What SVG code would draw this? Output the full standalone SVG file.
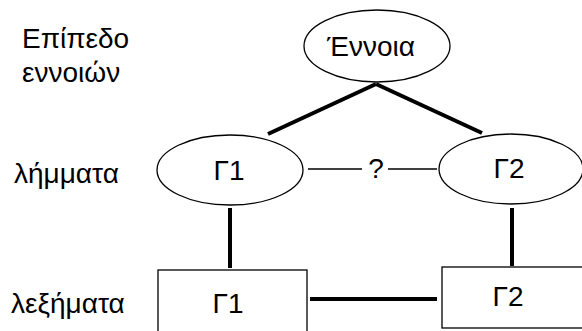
<svg xmlns="http://www.w3.org/2000/svg" width="582" height="331" viewBox="0 0 582 331">
<style>
text{font-family:"Liberation Sans",Arial,sans-serif;font-size:28px;fill:#000}
.n{text-anchor:middle}
.shape{fill:#fff;stroke:#000;stroke-width:1.3}
.thick{stroke:#000;stroke-width:4;fill:none}
.thin{stroke:#000;stroke-width:1.3;fill:none}
</style>
<rect width="582" height="331" fill="#fff"/>
<g id="labels">
<text x="22" y="48">Επίπεδο</text>
<text x="22" y="82">εννοιών</text>
<text x="14" y="183">λήμματα</text>
<text x="11" y="313">λεξήματα</text>
</g>
<g id="connectors">
<line class="thick" x1="376" y1="84" x2="268" y2="134"/>
<line class="thick" x1="376" y1="84" x2="482" y2="133"/>
<line class="thin" x1="308" y1="169" x2="362" y2="169"/>
<line class="thin" x1="388" y1="169" x2="437" y2="169"/>
<text class="n" x="376" y="178">?</text>
<line class="thick" x1="230" y1="208" x2="230" y2="268"/>
<line class="thick" x1="512" y1="208" x2="512" y2="266"/>
<line class="thick" x1="310" y1="299" x2="437" y2="299"/>
</g>
<g id="ennoia">
<ellipse class="shape" cx="377" cy="46" rx="73" ry="36"/>
<text class="n" x="371" y="56">Έννοια</text>
</g>
<g id="g1-lemma">
<ellipse class="shape" cx="230" cy="170" rx="73" ry="35"/>
<text class="n" x="229" y="180">Γ1</text>
</g>
<g id="g2-lemma">
<ellipse class="shape" cx="511" cy="169" rx="72" ry="35"/>
<text class="n" x="509" y="178">Γ2</text>
</g>
<g id="g1-lexeme">
<rect class="shape" x="158" y="270" width="149" height="70"/>
<text class="n" x="228" y="313">Γ1</text>
</g>
<g id="g2-lexeme">
<rect class="shape" x="442" y="267" width="150" height="61"/>
<text class="n" x="508" y="306">Γ2</text>
</g>
</svg>
